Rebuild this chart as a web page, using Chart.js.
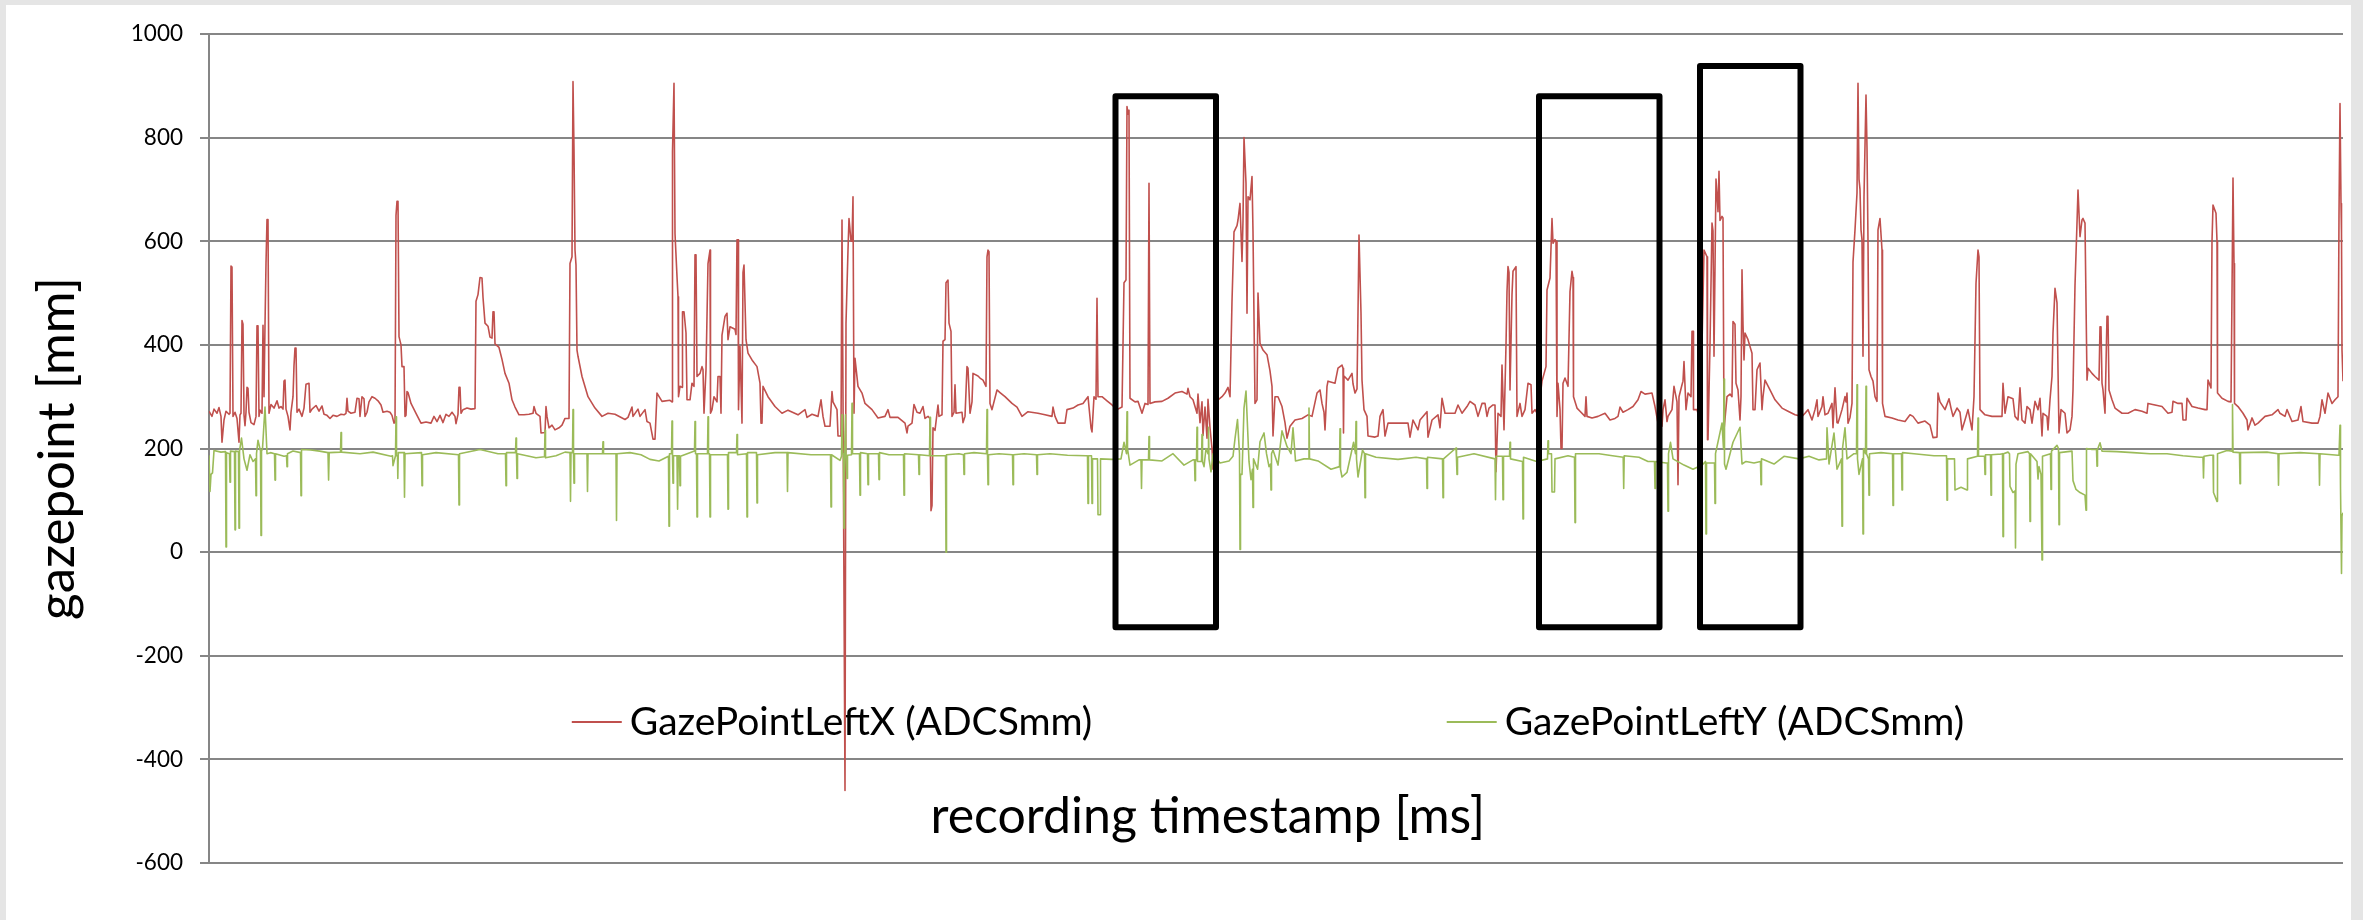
<!DOCTYPE html>
<html>
<head>
<meta charset="utf-8">
<title>Gaze point</title>
<script src="https://cdn.jsdelivr.net/npm/chart.js@4.4.1/dist/chart.umd.min.js"></script>
<style>
  html, body { margin: 0; padding: 0; background: #e5e5e5; overflow: hidden; }
  #panel { position: absolute; left: 6px; top: 5px; width: 2345px; height: 915px; background: #fff; }
  #gazeChart { position: absolute; left: 0; top: 0; }
</style>
</head>
<body>
<div id="panel"></div>
<canvas id="gazeChart" width="2363" height="920"></canvas>
<script>
// =====================
// DATA (sample index, mm)
// =====================
const seriesNames = ["GazePointLeftX (ADCSmm)", "GazePointLeftY (ADCSmm)"];
const seriesColors = ["#C0504D", "#9BBB59"];
const yTicks = [-600, -400, -200, 0, 200, 400, 600, 800, 1000];
const sampleCount = 2134;

// GazePointLeftX: [sample, mm]
const gazeLeftX = [
  [0,272],[3,262],[5,276],[8,268],[10,279],[12,262],[13,212],[15,255],[17,272],[20,266],[21,268],[22,552],[23,550],[24,262],[26,270],[28,258],[30,212],[31,265],[32,268],[33,447],[34,440],[35,265],[36,244],[37,270],[38,318],[39,316],[40,270],[42,250],[45,246],[47,262],[48,437],[49,437],[50,262],[51,274],[53,268],[54,438],[55,300],[56,438],[57,557],[58,642],[59,642],[60,268],[62,285],[65,278],[68,292],[70,278],[72,281],[74,276],[75,330],[76,332],[77,276],[79,262],[81,236],[82,270],[84,300],[85,360],[86,394],[87,394],[88,270],[90,276],[93,262],[95,278],[97,324],[100,326],[101,270],[103,276],[107,283],[110,272],[113,282],[115,266],[118,264],[121,258],[124,264],[128,262],[132,266],[135,265],[137,268],[138,297],[139,272],[142,268],[146,270],[148,297],[150,296],[151,262],[153,300],[155,296],[156,262],[158,270],[160,290],[163,300],[166,297],[169,292],[172,284],[174,270],[178,272],[181,270],[183,264],[185,249],[186,250],[187,650],[188,677],[189,677],[190,416],[192,400],[193,358],[195,358],[196,262],[197,264],[198,310],[199,308],[202,287],[207,268],[212,249],[217,251],[222,249],[225,262],[228,252],[231,264],[234,250],[237,266],[240,262],[243,270],[246,262],[247,248],[249,266],[250,318],[251,318],[252,268],[254,275],[258,278],[262,276],[266,277],[267,484],[269,497],[271,530],[273,529],[274,492],[276,442],[279,436],[281,415],[283,413],[284,464],[285,464],[286,402],[290,395],[293,372],[296,345],[300,326],[303,294],[306,280],[310,265],[315,265],[320,266],[324,268],[325,281],[327,268],[331,262],[332,230],[336,231],[337,281],[338,262],[340,240],[343,245],[346,236],[350,240],[353,245],[356,258],
  [360,258],[361,557],[363,570],[364,908],[365,776],[366,583],[367,554],[368,390],[369,378],[373,339],[379,300],[386,278],[393,262],[399,268],[406,266],[416,256],[419,260],[423,280],[424,262],[429,276],[431,262],[436,275],[438,252],[441,249],[444,218],[446,218],[448,307],[453,291],[461,293],[463,290],[463.5,773],[465,905],[466,615],[468,532],[469,493],[469.5,300],[471,320],[473,318],[473.5,464],[475,464],[477,423],[478,294],[481,294],[483,326],[485,320],[486,574],[487,574],[488,339],[491,345],[493,358],[494,352],[495,268],[497,352],[499,557],[501,583],[501.5,268],[503,275],[505,300],[508,290],[509,339],[511,339],[512,268],[513,419],[516,455],[518,461],[519,410],[521,435],[526,430],[527,420],[528,603],[529,603],[529.5,275],[531,397],[533,249],[534,540],[535,554],[537,410],[539,384],[543,371],[548,358],[551,326],[552,249],[553,249],[554,320],[559,300],[566,281],[573,268],[579,274],[589,265],[596,275],[598,260],[603,266],[609,262],[612,294],[614,262],[616,243],[621,243],[623,310],[624,290],[628,275],[629,224],[632,224],[633,641],[634,300],[636,-460],[637,442],[639,583],[640,644],[642,600],[643,600],[644,686],[645,268],[646,374],[649,320],[653,307],[656,287],[663,275],[669,259],[676,262],[679,275],[681,260],[689,260],[696,249],[698,230],[699,243],[703,249],[705,285],[708,270],[711,268],[714,281],
  [716,258],[719,262],[721,258],[722,80],[723,90],[724,240],[726,235],[729,284],[730,262],[733,265],[734,407],[736,410],[737,520],[739,525],[740,442],[742,426],[743,262],[745,270],[746,323],[747,268],[753,270],[754,250],[756,262],[758,358],[759,355],[761,268],[763,290],[764,345],[769,340],[771,336],[774,332],[777,320],[778,570],[779,583],[780,580],[781,287],[783,275],[788,313],[791,308],[796,300],[803,287],[808,280],[813,262],[819,271],[829,268],[836,265],[843,262],[844,280],[846,262],[849,249],[856,249],[858,275],[864,278],[869,284],[874,287],[879,300],[882,240],[883,232],[885,300],[887,295],[888,490],[889,300],[893,300],[898,292],[903,284],[908,275],[913,280],[915,520],[917,525],[918,860],[919,845],[920,853],[921,297],[926,290],[929,291],[933,268],[936,287],[939,285],[940,712],[941,287],[946,290],[953,291],[959,297],[966,307],[973,310],[978,305],[979,316],[981,300],[984,294],[988,268],[989,305],[991,250],[993,290],[994,225],[996,280],[998,220],[999,295],[1001,240],[1003,200],[1004,160],[1006,280],[1009,294],[1013,300],[1016,307],[1019,318],[1021,300],[1023,484],[1025,618],[1028,630],[1029,641],[1031,673],[1033,561],[1034,640],[1035,800],[1037,712],[1038,461],[1039,686],[1041,680],[1043,725],[1044,618],[1046,287],[1048,294],[1049,500],[1051,403],[1054,390],[1058,381],[1061,350],[1063,320],[1064,224],[1066,300],[1069,300],[1073,281],
  [1076,250],[1078,220],[1081,243],[1086,255],[1093,258],[1099,265],[1103,262],[1108,307],[1111,313],[1113,287],[1115,270],[1116,236],[1118,320],[1119,330],[1126,326],[1129,355],[1133,361],[1134,355],[1134.5,230],[1135,340],[1139,332],[1143,345],[1144,325],[1146,307],[1148,315],[1150,612],[1152,461],[1153,332],[1155,275],[1158,262],[1159,224],[1166,222],[1169,224],[1171,262],[1174,275],[1176,224],[1179,249],[1189,249],[1199,249],[1201,222],[1204,255],[1209,236],[1211,255],[1218,271],[1219,222],[1223,255],[1229,265],[1231,240],[1233,297],[1236,268],[1246,268],[1249,284],[1253,268],[1258,281],[1261,291],[1266,284],[1269,262],[1273,287],[1276,287],[1278,262],[1280,278],[1284,284],[1286,284],[1287,155],[1289,268],[1292,262],[1293,361],[1294,300],[1295,236],[1297,400],[1298,503],[1299,551],[1300,540],[1301,313],[1303,497],[1304,542],[1307,551],[1308,262],[1311,287],[1313,262],[1316,275],[1319,326],[1322,323],[1323,268],[1326,275],[1329,265],[1333,330],[1337,358],[1338,506],[1341,529],[1343,644],[1344,596],[1346,603],[1347,600],[1348,262],[1349,326],[1351,275],[1352,200],[1353,200],[1354,326],[1356,336],[1359,320],[1361,503],[1363,542],[1364,530],[1364.5,300],[1368,278],[1371,272],[1376,262],[1377,300],[1378,262],[1383,259],[1389,262],[1396,268],[1401,255],[1406,258],[1409,262],[1411,280],[1414,270],[1419,275],[1424,281],[1429,294],[1432,310],
  [1436,305],[1443,307],[1446,281],[1449,249],[1453,243],[1454,275],[1456,294],[1458,252],[1459,262],[1463,275],[1465,320],[1468,290],[1469,130],[1470,300],[1473,323],[1474,330],[1475,368],[1477,275],[1479,307],[1482,300],[1483,426],[1484,426],[1484.5,275],[1488,275],[1490,260],[1493,400],[1495,583],[1498,570],[1498.5,217],[1499,217],[1501,400],[1503,635],[1504,620],[1505,378],[1507,720],[1508,690],[1509,657],[1510,735],[1511,640],[1513,648],[1514,645],[1515,236],[1518,300],[1521,305],[1523,300],[1524,445],[1526,440],[1527,326],[1529,313],[1531,255],[1532,300],[1533,545],[1534,440],[1535,371],[1536,423],[1539,410],[1543,384],[1544,275],[1546,275],[1548,352],[1551,365],[1553,275],[1554,300],[1556,332],[1561,313],[1566,294],[1573,278],[1579,272],[1586,265],[1593,262],[1596,268],[1599,275],[1603,255],[1606,275],[1608,294],[1609,262],[1613,281],[1614,300],[1616,265],[1619,268],[1623,287],[1624,240],[1626,317],[1628,250],[1629,249],[1633,275],[1636,300],[1637,290],[1638,307],[1639,249],[1641,260],[1643,287],[1644,560],[1646,622],[1648,693],[1649,905],[1650,720],[1651,700],[1652,622],[1653,603],[1654,378],[1655,686],[1657,882],[1658,780],[1659,600],[1660,352],[1662,339],[1664,330],[1666,300],[1668,291],[1669,622],[1671,644],[1673,583],[1673.5,287],[1676,262],[1683,259],[1689,255],[1696,252],[1701,265],[1704,262],[1709,249],[1716,253],[1721,245],[1724,221],[1728,222],[1729,307],[1731,290],[1736,275],[1740,296],[1742,278],[1744,262],[1748,278],[1751,270],[1753,236],[1756,255],[1759,275],[1763,236],[1765,300],[1767,519],[1769,583],[1770,570],[1771,275],[1776,265],[1783,262],[1789,262],[1793,262],[1794,326],
  [1796,268],[1799,300],[1804,296],[1806,262],[1809,255],[1811,317],[1813,255],[1816,249],[1818,281],[1821,275],[1823,249],[1826,291],[1829,275],[1831,297],[1833,224],[1834,268],[1838,262],[1839,236],[1841,294],[1843,339],[1844,423],[1846,509],[1848,481],[1849,352],[1850,230],[1852,275],[1856,268],[1858,230],[1861,236],[1863,262],[1864,313],[1866,515],[1868,635],[1869,699],[1871,609],[1873,641],[1874,644],[1876,635],[1878,332],[1879,355],[1883,345],[1886,339],[1890,332],[1891,435],[1892,435],[1893,326],[1894,313],[1896,268],[1898,455],[1899,455],[1900,313],[1903,294],[1906,278],[1913,268],[1919,268],[1926,275],[1933,272],[1938,268],[1939,287],[1946,284],[1953,281],[1959,268],[1963,270],[1964,291],[1969,287],[1973,287],[1974,255],[1977,255],[1978,297],[1983,281],[1989,278],[1996,275],[1998,275],[1999,332],[2002,317],[2003,600],[2004,670],[2007,654],[2008,600],[2008.5,307],[2013,297],[2019,291],[2022,290],[2023,500],[2024,722],[2025,557],[2025.5,287],[2029,281],[2034,268],[2038,255],[2039,236],[2043,259],[2046,245],[2049,249],[2056,262],[2063,265],[2069,275],[2071,268],[2076,262],[2078,275],[2083,252],[2089,255],[2092,281],[2094,252],[2103,249],[2109,249],[2111,262],[2113,294],[2116,268],[2119,307],[2123,287],[2126,294],[2129,300],[2130,650],[2131,866],[2132,673],[2132.5,615],[2133,390],[2134,330]
];

// GazePointLeftY: [sample, mm]
const gazeLeftY = [
  [0,187],[1,117],[2,150],[3.5,153],[5,196],[12,193],[16.5,194],[17,10],[17.5,192],[20.5,190],[21,135],[21.5,195],[25.5,194],[26,43],[26.5,195],[29.5,194],[30,46],[30.5,195],[32.5,220],[35,180],[38,158],[41,188],[44,175],[46.5,180],[47,109],[47.5,190],[49,216],[51.5,195],[52,32],[52.5,195],[53.5,200],[56,280],[58,190],[61.5,192],[65.5,190],[66,139],[66.5,190],[75,185],[77.5,186],[78,165],[78.5,190],[84,195],[91.5,192],[92,109],[92.5,198],[101.7,197],[110.6,195],[119,192],[119.6,139],[120.2,192],[131.5,193],[132,231],[132.5,193],[151,190],[164,193],[182,185],[183.5,186],[184,167],[186.5,186],[187,261],[187.5,186],[188.5,186],[188.8,142],[189.3,192],[195,192],[195.5,106],[196,190],[212.5,192],[213,128],[213.5,188],[227,192],[249.5,188],[250,91],[250.5,190],[271,198],[289,190],[296.5,190],[297,128],[297.5,192],[306.5,192],[307,220],[307.5,190],[308,142],[308.5,190],[327,182],[335.5,184],[336,235],[336.5,182],[347,186],[356,193],[361,192],[361.5,98],[362,192],[363.5,192],[364,275],[364.5,190],[365,133],[365.5,190],[378,190],[378.5,117],[379,190],[393.5,190],[394,213],[394.5,190],[407,190],[407.5,61],[408,190],[421,192],[432,188],[441,179],[450,176],[459.5,185],[460,50],[460.5,190],[462.5,190],[463,253],[463.5,186],[464,133],[464.5,186],[468,186],[468.6,83],[469.2,186],[470.5,186],[471,128],[471.5,185],[485.5,195],[486,252],[486.5,190],[487.5,190],[488,68],[488.5,190],[498.5,190],[499,261],[499.5,190],[500.5,190],[501,68],[501.5,188],[517,188],[518.5,188],[519,83],[519.5,192],[527.5,192],[528,227],[528.5,188],[537.5,190],[538,68],[538.5,192],[547.5,192],[548,95],[548.5,188],[566,192],[578,192],[578.5,117],[579,192],[602,188],[621.5,188],[622,87],[622.5,188],[631,177],[632.5,185],[633,265],[633.5,190],[634.5,190],[635,46],[635.5,190],[636.5,265],[637,188],[638,142],[638.5,187],[642.5,188],[643,287],[643.5,190],
  [650.5,190],[651,110],[651.5,192],[658.5,190],[659,130],[659.5,190],[669.5,190],[670,140],[670.5,192],[680,188],[694.5,188],[695,110],[695.5,190],[709.5,188],[710,150],[710.5,188],[720.5,186],[721,260],[721.5,186],[736.5,186],[737,0],[737.5,188],[750,190],[754.5,188],[755,150],[755.5,190],[765,192],[777.5,190],[778,275],[778.5,188],[779,130],[779.5,188],[790,190],[803.5,188],[804,130],[804.5,188],[815,190],[827.5,188],[828,150],[828.5,188],[841,190],
  [858.5,187],[877,186],[878.5,186],[879,94],[879.5,186],[882.5,186],[883,94],[883.5,180],[888.5,180],[889,72],[891,72],[891.5,180],[903,179],[912,180],[915,212],[917.5,190],[918,271],[918.5,200],[921,168],[930,178],[932,178],[932.5,123],[933,178],[939.5,178],[940,223],[940.5,178],[953,176],[964,190],[975,168],[984,178],[985.5,178],[986,138],[986.5,178],[987.5,178],[988,241],[988.5,175],[992.5,175],[993,227],[993.5,175],[995,165],[997,200],[999,190],[999.5,241],[1000,180],[1002,155],[1004,190],[1011,172],[1020,176],[1024,185],[1026,219],[1028.5,256],[1030.5,190],[1031,5],[1031.5,150],[1033,150],[1035,278],[1037,311],[1040,175],[1042,140],[1043.5,160],[1044,86],[1044.5,180],[1048.6,160],[1051,213],[1055,230],[1057.5,190],[1060,165],[1061.5,170],[1062,120],[1062.5,190],[1064,197],[1069,168],[1073,234],[1078,204],[1082,190],[1084,240],[1086.5,176],[1095,180],[1099.5,180],[1100,278],[1100.5,180],[1109,176],[1122,160],[1130.5,165],[1131,238],[1131.5,160],[1133,145],[1138,154],[1144.6,212],[1146.5,190],[1147,252],[1147.5,180],[1149,145],[1153.5,197],[1155.5,190],[1156,105],[1156.5,190],[1167,183],[1189,179],[1207,183],[1217.5,180],[1218,123],[1218.5,183],[1233.5,180],[1234,105],[1234.5,180],[1247,201],[1247.5,180],[1248,150],[1248.5,183],[1265,190],[1286,180],[1286.5,101],[1287,185],[1293.5,185],[1294,101],[1294.5,185],[1300.5,185],[1301,212],[1301.5,180],[1313.5,175],[1314,64],[1314.5,183],[1327.6,175],[1338.5,180],[1339,215],[1339.5,190],[1342.5,190],[1343,116],[1345.5,116],[1346,180],[1359,186],[1365.5,183],[1366,57],[1366.5,190],[1390,190],[1403.5,186],[1414.2,183],[1414.7,123],[1415.2,186],[1430,183],[1439,175],[1445.5,175],[1446,123],[1446.5,175],[1457,172],[1458.5,172],[1459,79],[1459.5,190],[1461.5,212],[1464,180],[1475,168],[1484,160],[1493,168],[1496.5,175],[1497,35],[1497.5,172],[1505.5,172],[1506,94],[1506.5,190],[1513,249],[1514.5,200],[1515,334],[1515.5,170],[1517,160],[1524,212],[1531,241],[1533,170],[1537,175],
  [1545,172],[1551.5,175],[1552,130],[1552.5,180],[1565,170],[1575,185],[1590,180],[1600,185],[1610,178],[1617.5,180],[1618,240],[1620,170],[1625,230],[1628,160],[1632.5,180],[1633,50],[1633.5,200],[1636,240],[1638,180],[1645,190],[1647.5,190],[1648,323],[1648.5,180],[1650,150],[1653.5,180],[1654,35],[1654.5,200],[1656.5,190],[1657,320],[1657.5,190],[1659.5,180],[1660,110],[1660.5,190],[1672,192],[1683.5,190],[1684,90],[1684.5,190],[1692.5,190],[1693,120],[1693.5,192],[1705,190],[1715,188],[1725,186],[1737.5,186],[1738,100],[1738.5,180],[1745.5,180],[1746,120],[1752,125],[1758,120],[1758.5,180],[1768.5,185],[1769,259],[1769.5,185],[1775.5,185],[1776,150],[1776.5,188],[1781.5,188],[1782,110],[1782.5,188],[1789,189],
  [1791,189],[1793.5,190],[1794,30],[1794.5,190],[1799,193],[1800.5,190],[1801,127],[1804,115],[1806,118],[1806.5,8],[1807,170],[1809,190],[1819,194],[1820.5,190],[1821,59],[1821.5,190],[1828,175],[1829,141],[1830,165],[1832,150],[1833,-15],[1833.5,185],[1841.5,190],[1842,121],[1842.5,195],[1848,206],[1849.5,200],[1850,53],[1850.5,192],[1863,195],[1864,138],[1867,121],[1871,115],[1876,110],[1877,81],[1877.5,200],[1883,198],[1887.5,198],[1888,166],[1888.5,198],[1891,211],[1893,195],[1908,194],[1924,192],[1941,190],[1958,190],[1974,186],[1991,183],[1994,183],[1994.5,143],[1995,185],[2001,187],[2004,187],[2004.5,115],[2008,98],[2008.5,190],[2018,196],[2023,195],[2023.5,285],[2024,193],[2030.5,192],[2031,132],[2031.5,192],[2058,193],[2069,190],[2069.5,129],[2070,190],[2091,192],[2110,190],[2110.5,129],[2111,190],[2129,187],[2130,187],[2131,245],[2131.5,127],[2132.5,-41],[2133,70],[2134,76]
];

// highlighted intervals: [first sample, last sample, top mm, bottom mm]
const highlightBoxes = [
  [906.5, 1007, 880, -145],
  [1330, 1450.5, 880, -145],
  [1491, 1591.5, 938, -145]
];

const FONT = "Lato, 'DejaVu Sans', sans-serif";

// legend + x title sit inside the plot like in the Excel sheet
const overlayPlugin = {
  id: "overlay",
  beforeDatasetsDraw(chart) {
    const { ctx, chartArea: a } = chart;
    const w = a.right - a.left, h = a.bottom - a.top;
    ctx.save();
    // legend
    const legendX = [0.170, 0.580];
    const legendY = a.top + h * 0.830;
    ctx.font = "39px " + FONT;
    ctx.textBaseline = "middle";
    ctx.textAlign = "left";
    chart.data.datasets.forEach((ds, i) => {
      const x = a.left + w * legendX[i];
      ctx.strokeStyle = ds.borderColor;
      ctx.lineWidth = 2;
      ctx.beginPath();
      ctx.moveTo(x, legendY);
      ctx.lineTo(x + 50, legendY);
      ctx.stroke();
      ctx.fillStyle = "#000";
      ctx.fillText(ds.label, x + 58, legendY);
    });
    // x axis title
    ctx.font = "50px " + FONT;
    ctx.textAlign = "center";
    ctx.fillText("recording timestamp [ms]", a.left + w * 0.468, a.top + h * 0.944);
    ctx.restore();
  },
  afterDatasetsDraw(chart) {
    const { ctx } = chart;
    const xs = chart.scales.x, ys = chart.scales.y;
    ctx.save();
    ctx.strokeStyle = "#000";
    ctx.lineWidth = 6;
    ctx.lineJoin = "round";
    highlightBoxes.forEach(([s0, s1, top, bottom]) => {
      const x0 = xs.getPixelForValue(s0), x1 = xs.getPixelForValue(s1);
      const y0 = ys.getPixelForValue(top), y1 = ys.getPixelForValue(bottom);
      ctx.strokeRect(x0, y0, x1 - x0, y1 - y0);
    });
    ctx.restore();
  }
};

const toPoints = rows => rows.map(([s, v]) => ({ x: s, y: v }));

new Chart(document.getElementById("gazeChart"), {
  type: "line",
  data: {
    datasets: [
      {
        label: seriesNames[0],
        data: toPoints(gazeLeftX),
        borderColor: seriesColors[0],
        borderWidth: 1.6,
        borderJoinStyle: "round",
        pointRadius: 0,
        tension: 0,
        order: 1
      },
      {
        label: seriesNames[1],
        data: toPoints(gazeLeftY),
        borderColor: seriesColors[1],
        borderWidth: 1.6,
        borderJoinStyle: "round",
        pointRadius: 0,
        tension: 0,
        order: 0
      }
    ]
  },
  options: {
    responsive: false,
    animation: false,
    events: [],
    layout: { padding: { left: 27, top: 34, right: 20, bottom: 57 } },
    plugins: { legend: { display: false }, tooltip: { enabled: false } },
    scales: {
      x: { type: "linear", display: false, min: 0, max: sampleCount },
      y: {
        min: yTicks[0],
        max: yTicks[yTicks.length - 1],
        afterBuildTicks: scale => { scale.ticks = yTicks.map(v => ({ value: v })); },
        afterFit: scale => { scale.width = 182; },
        ticks: {
          padding: 17,
          color: "#000",
          font: { family: FONT, size: 22.5 },
          callback: v => String(v)
        },
        grid: { color: "#868686", lineWidth: 2, tickLength: 9 },
        border: { color: "#868686", width: 2 },
        title: {
          display: true,
          text: "gazepoint [mm]",
          color: "#000",
          font: { family: FONT, size: 51 },
          padding: 0
        }
      }
    }
  },
  plugins: [overlayPlugin]
});
</script>
</body>
</html>
